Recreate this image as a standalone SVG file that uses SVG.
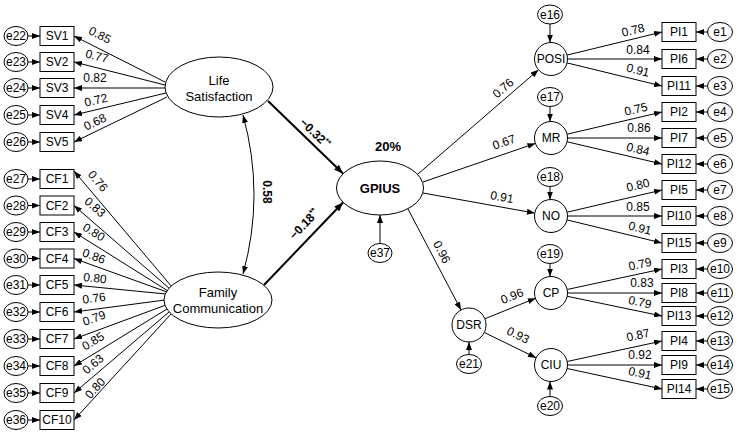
<svg xmlns="http://www.w3.org/2000/svg" width="737" height="435" viewBox="0 0 737 435">
<defs>
<marker id="ah" markerUnits="userSpaceOnUse" markerWidth="8" markerHeight="6" refX="8" refY="3" orient="auto-start-reverse"><path d="M0,0 L8,3 L0,6 z" fill="#000"/></marker>
<marker id="ahb" markerUnits="userSpaceOnUse" markerWidth="9" markerHeight="7" refX="9" refY="3.5" orient="auto"><path d="M0,0 L9,3.5 L0,7 z" fill="#000"/></marker>
<style>
text{font-family:"Liberation Sans",Arial,sans-serif;fill:#000}
.n{font-size:12px;text-anchor:middle}
.lv{font-size:13px;text-anchor:middle}
.b{font-weight:bold}
.lb{font-size:12px;text-anchor:middle}
.sh{fill:#fff;stroke:#000;stroke-width:1}
.c line,.c path{stroke:#000;stroke-width:1;fill:none;marker-end:url(#ah)}
.c .bold{stroke-width:2;marker-end:url(#ahb)}
</style>
</defs>
<rect width="737" height="435" fill="#fff"/>

<g id="connectors" class="c">
<!-- LS to SV -->
<line x1="165" y1="82" x2="74" y2="36"/>
<line x1="165" y1="85" x2="74" y2="62"/>
<line x1="165" y1="88" x2="74" y2="88"/>
<line x1="166" y1="93" x2="74" y2="115"/>
<line x1="167" y1="97" x2="74" y2="142"/>
<!-- FC to CF -->
<line x1="172" y1="287" x2="74" y2="171"/>
<line x1="170" y1="289" x2="74" y2="205.5"/>
<line x1="168" y1="291" x2="74" y2="232"/>
<line x1="167" y1="292" x2="74" y2="258.5"/>
<line x1="166" y1="294" x2="74" y2="285"/>
<line x1="165" y1="300" x2="74" y2="312"/>
<line x1="166" y1="305" x2="74" y2="339"/>
<line x1="167" y1="309" x2="74" y2="366"/>
<line x1="169" y1="312" x2="74" y2="393"/>
<line x1="171" y1="314" x2="74" y2="420"/>
<!-- e to SV/CF -->
<line x1="28" y1="36" x2="40" y2="36"/>
<line x1="28" y1="62" x2="40" y2="62"/>
<line x1="28" y1="88" x2="40" y2="88"/>
<line x1="28" y1="115" x2="40" y2="115"/>
<line x1="28" y1="142" x2="40" y2="142"/>
<line x1="28" y1="179" x2="40" y2="179"/>
<line x1="28" y1="205.5" x2="40" y2="205.5"/>
<line x1="28" y1="232" x2="40" y2="232"/>
<line x1="28" y1="258.5" x2="40" y2="258.5"/>
<line x1="28" y1="285" x2="40" y2="285"/>
<line x1="28" y1="312" x2="40" y2="312"/>
<line x1="28" y1="339" x2="40" y2="339"/>
<line x1="28" y1="366" x2="40" y2="366"/>
<line x1="28" y1="393" x2="40" y2="393"/>
<line x1="28" y1="420" x2="40" y2="420"/>
<!-- covariance -->
<path d="M243,115 Q265,194.5 243,274" style="marker-start:url(#ah)"/>
<!-- structural -->
<line class="bold" x1="268" y1="101" x2="343" y2="173.5"/>
<line class="bold" x1="264" y1="285" x2="343" y2="202.5"/>
<line x1="380" y1="243.5" x2="380" y2="215"/>
<!-- GPIUS to first-order -->
<line x1="418" y1="174" x2="538.5" y2="69.8"/>
<line x1="423" y1="182" x2="535.4" y2="143.4"/>
<line x1="423" y1="193" x2="534.8" y2="213.1"/>
<line x1="408" y1="209" x2="461" y2="310"/>
<line x1="485" y1="318.7" x2="535.7" y2="298.2"/>
<line x1="484.3" y1="332.5" x2="536" y2="357.7"/>
<!-- disturbances -->
<line x1="550" y1="24" x2="550" y2="42.5"/>
<line x1="550" y1="106.5" x2="550" y2="121.5"/>
<line x1="550" y1="186.5" x2="550" y2="199.5"/>
<line x1="550" y1="263.5" x2="550" y2="276.5"/>
<line x1="469" y1="354.5" x2="469" y2="342"/>
<line x1="550" y1="396.5" x2="550" y2="381.5"/>
<!-- first-order to PI -->
<line x1="567" y1="55.1" x2="662" y2="32"/>
<line x1="567.5" y1="59" x2="662" y2="59"/>
<line x1="567" y1="62.9" x2="662" y2="86"/>
<line x1="567.1" y1="134.2" x2="662" y2="112"/>
<line x1="567.5" y1="138" x2="662" y2="138"/>
<line x1="567.1" y1="141.8" x2="662" y2="164"/>
<line x1="567.1" y1="212.2" x2="662" y2="190"/>
<line x1="567.5" y1="216" x2="662" y2="216"/>
<line x1="567" y1="219.9" x2="662" y2="243"/>
<line x1="567.1" y1="289.5" x2="662" y2="269"/>
<line x1="567.5" y1="293" x2="662" y2="293"/>
<line x1="567.2" y1="296.3" x2="662" y2="316"/>
<line x1="567.1" y1="361.5" x2="662" y2="341"/>
<line x1="567.5" y1="365" x2="662" y2="365"/>
<line x1="567.1" y1="368.5" x2="662" y2="389"/>
<!-- e to PI -->
<line x1="707.5" y1="32" x2="696" y2="32"/>
<line x1="707.5" y1="59" x2="696" y2="59"/>
<line x1="707.5" y1="86" x2="696" y2="86"/>
<line x1="707.5" y1="112" x2="696" y2="112"/>
<line x1="707.5" y1="138" x2="696" y2="138"/>
<line x1="707.5" y1="164" x2="696" y2="164"/>
<line x1="707.5" y1="190" x2="696" y2="190"/>
<line x1="707.5" y1="216" x2="696" y2="216"/>
<line x1="707.5" y1="243" x2="696" y2="243"/>
<line x1="707.5" y1="269" x2="696" y2="269"/>
<line x1="707.5" y1="293" x2="696" y2="293"/>
<line x1="707.5" y1="316" x2="696" y2="316"/>
<line x1="707.5" y1="341" x2="696" y2="341"/>
<line x1="707.5" y1="365" x2="696" y2="365"/>
<line x1="707.5" y1="389" x2="696" y2="389"/>
</g>

<g id="path-labels">
<text class="lb" transform="translate(100,35) rotate(26.8)" dy="0.35em">0.85</text>
<text class="lb" transform="translate(97,56) rotate(14.2)" dy="0.35em">0.77</text>
<text class="lb" transform="translate(95,78)" dy="0.35em">0.82</text>
<text class="lb" transform="translate(96,100) rotate(-13.4)" dy="0.35em">0.72</text>
<text class="lb" transform="translate(95,122) rotate(-25.8)" dy="0.35em">0.68</text>
<text class="lb" transform="translate(98,181) rotate(49.8)" dy="0.35em">0.76</text>
<text class="lb" transform="translate(95,207) rotate(41)" dy="0.35em">0.83</text>
<text class="lb" transform="translate(94,232) rotate(32)" dy="0.35em">0.80</text>
<text class="lb" transform="translate(94,256) rotate(19.8)" dy="0.35em">0.86</text>
<text class="lb" transform="translate(95,278) rotate(5.6)" dy="0.35em">0.80</text>
<text class="lb" transform="translate(94,298) rotate(-7.5)" dy="0.35em">0.76</text>
<text class="lb" transform="translate(94,318) rotate(-20.3)" dy="0.35em">0.79</text>
<text class="lb" transform="translate(93,341) rotate(-31.5)" dy="0.35em">0.85</text>
<text class="lb" transform="translate(93,364) rotate(-40.5)" dy="0.35em">0.63</text>
<text class="lb" transform="translate(95,388) rotate(-47.5)" dy="0.35em">0.80</text>
<text class="lb b" transform="translate(267,192) rotate(90)" dy="0.35em">0.58</text>
<text class="lb b" transform="translate(315,133) rotate(43.8)" dy="0.35em">−0.32<tspan font-size="8" dy="-4">**</tspan></text>
<text class="lb b" transform="translate(304,224) rotate(-46.8)" dy="0.35em">−0.18<tspan font-size="8" dy="-4">**</tspan></text>
<text class="lv b" x="388" y="146" dy="0.35em">20%</text>
<text class="lb" transform="translate(503,88) rotate(-40.8)" dy="0.35em">0.76</text>
<text class="lb" transform="translate(504,142) rotate(-19)" dy="0.35em">0.67</text>
<text class="lb" transform="translate(502,197) rotate(10.2)" dy="0.35em">0.91</text>
<text class="lb" transform="translate(442,252) rotate(62.3)" dy="0.35em">0.96</text>
<text class="lb" transform="translate(512,296) rotate(-22)" dy="0.35em">0.96</text>
<text class="lb" transform="translate(518,335) rotate(26)" dy="0.35em">0.93</text>
<text class="lb" transform="translate(633,30) rotate(-13.7)" dy="0.35em">0.78</text>
<text class="lb" transform="translate(638,50)" dy="0.35em">0.84</text>
<text class="lb" transform="translate(638,70) rotate(13.7)" dy="0.35em">0.91</text>
<text class="lb" transform="translate(636,109) rotate(-13.2)" dy="0.35em">0.75</text>
<text class="lb" transform="translate(639,128)" dy="0.35em">0.86</text>
<text class="lb" transform="translate(638,149) rotate(13.2)" dy="0.35em">0.84</text>
<text class="lb" transform="translate(638,185) rotate(-13.2)" dy="0.35em">0.80</text>
<text class="lb" transform="translate(638,207)" dy="0.35em">0.85</text>
<text class="lb" transform="translate(640,228) rotate(13.7)" dy="0.35em">0.91</text>
<text class="lb" transform="translate(640,264) rotate(-12.2)" dy="0.35em">0.79</text>
<text class="lb" transform="translate(642,283)" dy="0.35em">0.83</text>
<text class="lb" transform="translate(640,302) rotate(11.7)" dy="0.35em">0.79</text>
<text class="lb" transform="translate(638,335) rotate(-12.2)" dy="0.35em">0.87</text>
<text class="lb" transform="translate(640,355)" dy="0.35em">0.92</text>
<text class="lb" transform="translate(640,373) rotate(12.2)" dy="0.35em">0.91</text>
</g>

<g id="LifeSatisfaction"><ellipse class="sh" cx="219" cy="87" rx="54" ry="30"/><text class="lv" x="219" y="80" dy="0.35em">Life</text><text class="lv" x="219" y="96" dy="0.35em">Satisfaction</text></g>
<g id="FamilyCommunication"><ellipse class="sh" cx="218" cy="300" rx="54" ry="28"/><text class="lv" x="218" y="292" dy="0.35em">Family</text><text class="lv" x="218" y="308" dy="0.35em">Communication</text></g>
<g id="GPIUS"><ellipse class="sh" cx="380" cy="188" rx="43.5" ry="27"/><text class="lv b" x="380" y="188" dy="0.35em">GPIUS</text></g>
<g id="e37"><ellipse class="sh" cx="380" cy="253" rx="12" ry="9.5"/><text class="n" x="380" y="253" dy="0.35em">e37</text></g>

<g id="POSI"><circle class="sh" cx="551" cy="59" r="16.5"/><text class="n" x="551" y="59" dy="0.35em">POSI</text></g>
<g id="MR"><circle class="sh" cx="551" cy="138" r="16.5"/><text class="n" x="551" y="138" dy="0.35em">MR</text></g>
<g id="NO"><circle class="sh" cx="551" cy="216" r="16.5"/><text class="n" x="551" y="216" dy="0.35em">NO</text></g>
<g id="CP"><circle class="sh" cx="551" cy="293" r="16.5"/><text class="n" x="551" y="293" dy="0.35em">CP</text></g>
<g id="CIU"><circle class="sh" cx="551" cy="365" r="16.5"/><text class="n" x="551" y="365" dy="0.35em">CIU</text></g>
<g id="DSR"><circle class="sh" cx="469" cy="325" r="17"/><text class="n" x="469" y="325" dy="0.35em">DSR</text></g>
<g id="e16"><ellipse class="sh" cx="550" cy="14.5" rx="12.5" ry="9.5"/><text class="n" x="550" y="14.5" dy="0.35em">e16</text></g>
<g id="e17"><ellipse class="sh" cx="550" cy="97" rx="12.5" ry="9.5"/><text class="n" x="550" y="97" dy="0.35em">e17</text></g>
<g id="e18"><ellipse class="sh" cx="550" cy="177" rx="12.5" ry="9.5"/><text class="n" x="550" y="177" dy="0.35em">e18</text></g>
<g id="e19"><ellipse class="sh" cx="550" cy="254" rx="12.5" ry="9.5"/><text class="n" x="550" y="254" dy="0.35em">e19</text></g>
<g id="e21"><ellipse class="sh" cx="469" cy="364" rx="12.5" ry="9.5"/><text class="n" x="469" y="364" dy="0.35em">e21</text></g>
<g id="e20"><ellipse class="sh" cx="550" cy="406" rx="12.5" ry="9.5"/><text class="n" x="550" y="406" dy="0.35em">e20</text></g>

<g id="SV1"><rect class="sh" x="40" y="26.5" width="34" height="19"/><text class="n" x="57" y="36" dy="0.35em">SV1</text></g>
<g id="SV2"><rect class="sh" x="40" y="52.5" width="34" height="19"/><text class="n" x="57" y="62" dy="0.35em">SV2</text></g>
<g id="SV3"><rect class="sh" x="40" y="78.5" width="34" height="19"/><text class="n" x="57" y="88" dy="0.35em">SV3</text></g>
<g id="SV4"><rect class="sh" x="40" y="105.5" width="34" height="19"/><text class="n" x="57" y="115" dy="0.35em">SV4</text></g>
<g id="SV5"><rect class="sh" x="40" y="132.5" width="34" height="19"/><text class="n" x="57" y="142" dy="0.35em">SV5</text></g>
<g id="CF1"><rect class="sh" x="40" y="169.5" width="34" height="19"/><text class="n" x="57" y="179" dy="0.35em">CF1</text></g>
<g id="CF2"><rect class="sh" x="40" y="196" width="34" height="19"/><text class="n" x="57" y="205.5" dy="0.35em">CF2</text></g>
<g id="CF3"><rect class="sh" x="40" y="222.5" width="34" height="19"/><text class="n" x="57" y="232" dy="0.35em">CF3</text></g>
<g id="CF4"><rect class="sh" x="40" y="249" width="34" height="19"/><text class="n" x="57" y="258.5" dy="0.35em">CF4</text></g>
<g id="CF5"><rect class="sh" x="40" y="275.5" width="34" height="19"/><text class="n" x="57" y="285" dy="0.35em">CF5</text></g>
<g id="CF6"><rect class="sh" x="40" y="302.5" width="34" height="19"/><text class="n" x="57" y="312" dy="0.35em">CF6</text></g>
<g id="CF7"><rect class="sh" x="40" y="329.5" width="34" height="19"/><text class="n" x="57" y="339" dy="0.35em">CF7</text></g>
<g id="CF8"><rect class="sh" x="40" y="356.5" width="34" height="19"/><text class="n" x="57" y="366" dy="0.35em">CF8</text></g>
<g id="CF9"><rect class="sh" x="40" y="383.5" width="34" height="19"/><text class="n" x="57" y="393" dy="0.35em">CF9</text></g>
<g id="CF10"><rect class="sh" x="40" y="410.5" width="34" height="19"/><text class="n" x="57" y="420" dy="0.35em">CF10</text></g>

<g id="e22"><ellipse class="sh" cx="16" cy="36" rx="12" ry="9.5"/><text class="n" x="16" y="36" dy="0.35em">e22</text></g>
<g id="e23"><ellipse class="sh" cx="16" cy="62" rx="12" ry="9.5"/><text class="n" x="16" y="62" dy="0.35em">e23</text></g>
<g id="e24"><ellipse class="sh" cx="16" cy="88" rx="12" ry="9.5"/><text class="n" x="16" y="88" dy="0.35em">e24</text></g>
<g id="e25"><ellipse class="sh" cx="16" cy="115" rx="12" ry="9.5"/><text class="n" x="16" y="115" dy="0.35em">e25</text></g>
<g id="e26"><ellipse class="sh" cx="16" cy="142" rx="12" ry="9.5"/><text class="n" x="16" y="142" dy="0.35em">e26</text></g>
<g id="e27"><ellipse class="sh" cx="16" cy="179" rx="12" ry="9.5"/><text class="n" x="16" y="179" dy="0.35em">e27</text></g>
<g id="e28"><ellipse class="sh" cx="16" cy="205.5" rx="12" ry="9.5"/><text class="n" x="16" y="205.5" dy="0.35em">e28</text></g>
<g id="e29"><ellipse class="sh" cx="16" cy="232" rx="12" ry="9.5"/><text class="n" x="16" y="232" dy="0.35em">e29</text></g>
<g id="e30"><ellipse class="sh" cx="16" cy="258.5" rx="12" ry="9.5"/><text class="n" x="16" y="258.5" dy="0.35em">e30</text></g>
<g id="e31"><ellipse class="sh" cx="16" cy="285" rx="12" ry="9.5"/><text class="n" x="16" y="285" dy="0.35em">e31</text></g>
<g id="e32"><ellipse class="sh" cx="16" cy="312" rx="12" ry="9.5"/><text class="n" x="16" y="312" dy="0.35em">e32</text></g>
<g id="e33"><ellipse class="sh" cx="16" cy="339" rx="12" ry="9.5"/><text class="n" x="16" y="339" dy="0.35em">e33</text></g>
<g id="e34"><ellipse class="sh" cx="16" cy="366" rx="12" ry="9.5"/><text class="n" x="16" y="366" dy="0.35em">e34</text></g>
<g id="e35"><ellipse class="sh" cx="16" cy="393" rx="12" ry="9.5"/><text class="n" x="16" y="393" dy="0.35em">e35</text></g>
<g id="e36"><ellipse class="sh" cx="16" cy="420" rx="12" ry="9.5"/><text class="n" x="16" y="420" dy="0.35em">e36</text></g>

<g id="PI1"><rect class="sh" x="662" y="22.5" width="34" height="19"/><text class="n" x="679" y="32" dy="0.35em">PI1</text></g>
<g id="PI6"><rect class="sh" x="662" y="49.5" width="34" height="19"/><text class="n" x="679" y="59" dy="0.35em">PI6</text></g>
<g id="PI11"><rect class="sh" x="662" y="76.5" width="34" height="19"/><text class="n" x="679" y="86" dy="0.35em">PI11</text></g>
<g id="PI2"><rect class="sh" x="662" y="102.5" width="34" height="19"/><text class="n" x="679" y="112" dy="0.35em">PI2</text></g>
<g id="PI7"><rect class="sh" x="662" y="128.5" width="34" height="19"/><text class="n" x="679" y="138" dy="0.35em">PI7</text></g>
<g id="PI12"><rect class="sh" x="662" y="154.5" width="34" height="19"/><text class="n" x="679" y="164" dy="0.35em">PI12</text></g>
<g id="PI5"><rect class="sh" x="662" y="180.5" width="34" height="19"/><text class="n" x="679" y="190" dy="0.35em">PI5</text></g>
<g id="PI10"><rect class="sh" x="662" y="206.5" width="34" height="19"/><text class="n" x="679" y="216" dy="0.35em">PI10</text></g>
<g id="PI15"><rect class="sh" x="662" y="233.5" width="34" height="19"/><text class="n" x="679" y="243" dy="0.35em">PI15</text></g>
<g id="PI3"><rect class="sh" x="662" y="259.5" width="34" height="19"/><text class="n" x="679" y="269" dy="0.35em">PI3</text></g>
<g id="PI8"><rect class="sh" x="662" y="283.5" width="34" height="19"/><text class="n" x="679" y="293" dy="0.35em">PI8</text></g>
<g id="PI13"><rect class="sh" x="662" y="306.5" width="34" height="19"/><text class="n" x="679" y="316" dy="0.35em">PI13</text></g>
<g id="PI4"><rect class="sh" x="662" y="331.5" width="34" height="19"/><text class="n" x="679" y="341" dy="0.35em">PI4</text></g>
<g id="PI9"><rect class="sh" x="662" y="355.5" width="34" height="19"/><text class="n" x="679" y="365" dy="0.35em">PI9</text></g>
<g id="PI14"><rect class="sh" x="662" y="379.5" width="34" height="19"/><text class="n" x="679" y="389" dy="0.35em">PI14</text></g>

<g id="e1"><ellipse class="sh" cx="720" cy="32" rx="12.5" ry="9.5"/><text class="n" x="720" y="32" dy="0.35em">e1</text></g>
<g id="e2"><ellipse class="sh" cx="720" cy="59" rx="12.5" ry="9.5"/><text class="n" x="720" y="59" dy="0.35em">e2</text></g>
<g id="e3"><ellipse class="sh" cx="720" cy="86" rx="12.5" ry="9.5"/><text class="n" x="720" y="86" dy="0.35em">e3</text></g>
<g id="e4"><ellipse class="sh" cx="720" cy="112" rx="12.5" ry="9.5"/><text class="n" x="720" y="112" dy="0.35em">e4</text></g>
<g id="e5"><ellipse class="sh" cx="720" cy="138" rx="12.5" ry="9.5"/><text class="n" x="720" y="138" dy="0.35em">e5</text></g>
<g id="e6"><ellipse class="sh" cx="720" cy="164" rx="12.5" ry="9.5"/><text class="n" x="720" y="164" dy="0.35em">e6</text></g>
<g id="e7"><ellipse class="sh" cx="720" cy="190" rx="12.5" ry="9.5"/><text class="n" x="720" y="190" dy="0.35em">e7</text></g>
<g id="e8"><ellipse class="sh" cx="720" cy="216" rx="12.5" ry="9.5"/><text class="n" x="720" y="216" dy="0.35em">e8</text></g>
<g id="e9"><ellipse class="sh" cx="720" cy="243" rx="12.5" ry="9.5"/><text class="n" x="720" y="243" dy="0.35em">e9</text></g>
<g id="e10"><ellipse class="sh" cx="720" cy="269" rx="12.5" ry="9.5"/><text class="n" x="720" y="269" dy="0.35em">e10</text></g>
<g id="e11"><ellipse class="sh" cx="720" cy="293" rx="12.5" ry="9.5"/><text class="n" x="720" y="293" dy="0.35em">e11</text></g>
<g id="e12"><ellipse class="sh" cx="720" cy="316" rx="12.5" ry="9.5"/><text class="n" x="720" y="316" dy="0.35em">e12</text></g>
<g id="e13"><ellipse class="sh" cx="720" cy="341" rx="12.5" ry="9.5"/><text class="n" x="720" y="341" dy="0.35em">e13</text></g>
<g id="e14"><ellipse class="sh" cx="720" cy="365" rx="12.5" ry="9.5"/><text class="n" x="720" y="365" dy="0.35em">e14</text></g>
<g id="e15"><ellipse class="sh" cx="720" cy="389" rx="12.5" ry="9.5"/><text class="n" x="720" y="389" dy="0.35em">e15</text></g>
</svg>
